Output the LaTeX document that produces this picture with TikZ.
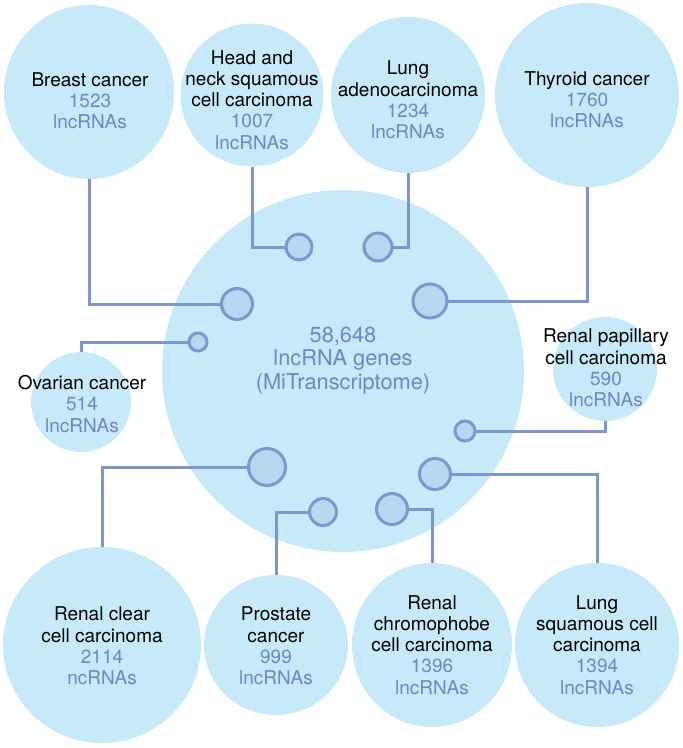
\documentclass[tikz,border=0pt]{standalone}
\usepackage{fontspec}
\setmainfont{TeX Gyre Heros}
\usetikzlibrary{shapes.geometric}
\definecolor{bigfill}{HTML}{C6EAF9}
\definecolor{dotfill}{HTML}{B6D8EF}
\definecolor{linecol}{HTML}{7E96D0}
\definecolor{numcol}{HTML}{6E86C8}
\tikzset{
  bigc/.style={ellipse, fill=bigfill, inner sep=0pt, draw=none},
  dotc/.style={circle, fill=dotfill, draw=linecol, line width=3pt, inner sep=0pt},
  link/.style={draw=linecol, line width=3pt},
  lbl/.style={align=center, inner sep=0pt, font=\fontsize{19}{21.2}\selectfont},
  biglbl/.style={align=center, inner sep=0pt, text=numcol, font=\fontsize{21.8}{23.6}\selectfont},
}
\newcommand{\nm}[1]{\textcolor{numcol}{#1}}
\begin{document}
\begin{tikzpicture}[x=1pt,y=-1pt]
\useasboundingbox (0,0) rectangle (683,748);
% big circles
\node[bigc, minimum width=362pt, minimum height=362pt] (central) at (343,371) {};
\node[bigc, minimum width=170pt, minimum height=174pt] (breast) at (89,92) {};
\node[bigc, minimum width=143pt, minimum height=143pt] (head) at (252,95) {};
\node[bigc, minimum width=154pt, minimum height=156pt] (lunga) at (408,95) {};
\node[bigc, minimum width=184pt, minimum height=184pt] (thyroid) at (587,95) {};
\node[bigc, minimum width=100pt, minimum height=100pt] (ovarian) at (81,402) {};
\node[bigc, minimum width=104pt, minimum height=104pt] (papillary) at (605,369) {};
\node[bigc, minimum width=198pt, minimum height=196pt] (renalclear) at (102,645) {};
\node[bigc, minimum width=144pt, minimum height=140pt] (prostate) at (276,645) {};
\node[bigc, minimum width=160pt, minimum height=164pt] (chromo) at (432,645) {};
\node[bigc, minimum width=164pt, minimum height=164pt] (lungsq) at (597,645) {};
% connector end coordinates (small circle centres)
\coordinate (pbreast) at (237,304);
\coordinate (phead) at (299,247);
\coordinate (plunga) at (378,247);
\coordinate (pthyroid) at (430,301);
\coordinate (povarian) at (198,342);
\coordinate (ppapillary) at (465,431);
\coordinate (prenalclear) at (267,467);
\coordinate (pprostate) at (323,512);
\coordinate (pchromo) at (392,509);
\coordinate (plungsq) at (435,474);
% connectors
\draw[link] (breast.south) |- (pbreast);
\draw[link] (head.south) |- (phead);
\draw[link] (lunga.south) |- (plunga);
\draw[link] (thyroid.south) |- (pthyroid);
\draw[link] (ovarian.north) |- (povarian);
\draw[link] (papillary.south) |- (ppapillary);
\draw[link] (renalclear.north) |- (prenalclear);
\draw[link] (prostate.north) |- (pprostate);
\draw[link] (chromo.north) |- (pchromo);
\draw[link] (lungsq.north) |- (plungsq);
% small circles on top of connectors
\node[dotc, minimum size=31pt] (dbreast) at (pbreast) {};
\node[dotc, minimum size=26pt] (dhead) at (phead) {};
\node[dotc, minimum size=28pt] (dlunga) at (plunga) {};
\node[dotc, minimum size=34pt] (dthyroid) at (pthyroid) {};
\node[dotc, minimum size=18pt] (dovarian) at (povarian) {};
\node[dotc, minimum size=20pt] (dpapillary) at (ppapillary) {};
\node[dotc, minimum size=37pt] (drenalclear) at (prenalclear) {};
\node[dotc, minimum size=27pt] (dprostate) at (pprostate) {};
\node[dotc, minimum size=31pt] (dchromo) at (pchromo) {};
\node[dotc, minimum size=31pt] (dlungsq) at (plungsq) {};
% labels
\node[biglbl] (centralt) at (343,360.5) {58,648\\lncRNA genes\\(MiTranscriptome)};
\node[lbl] (breastt) at (90,101) {Breast cancer\\\nm{1523}\\\nm{lncRNAs}};
\node[lbl] (headt) at (252,100) {Head and\\neck squamous\\cell carcinoma\\\nm{1007}\\\nm{lncRNAs}};
\node[lbl] (lungat) at (408,100) {Lung\\adenocarcinoma\\\nm{1234}\\\nm{lncRNAs}};
\node[lbl] (thyroidt) at (587,100) {Thyroid cancer\\\nm{1760}\\\nm{lncRNAs}};
\node[lbl] (ovariant) at (82,404) {Ovarian cancer\\\nm{514}\\\nm{lncRNAs}};
\node[lbl] (papillaryt) at (606,368) {Renal papillary\\cell carcinoma\\\nm{590}\\\nm{lncRNAs}};
\node[lbl] (renalcleart) at (102,646) {Renal clear\\cell carcinoma\\\nm{2114}\\\nm{ncRNAs}};
\node[lbl] (prostatet) at (276,646) {Prostate\\cancer\\\nm{999}\\\nm{lncRNAs}};
\node[lbl] (chromot) at (432,645) {Renal\\chromophobe\\cell carcinoma\\\nm{1396}\\\nm{lncRNAs}};
\node[lbl] (lungsqt) at (597,645) {Lung\\squamous cell\\carcinoma\\\nm{1394}\\\nm{lncRNAs}};
\end{tikzpicture}
\end{document}
